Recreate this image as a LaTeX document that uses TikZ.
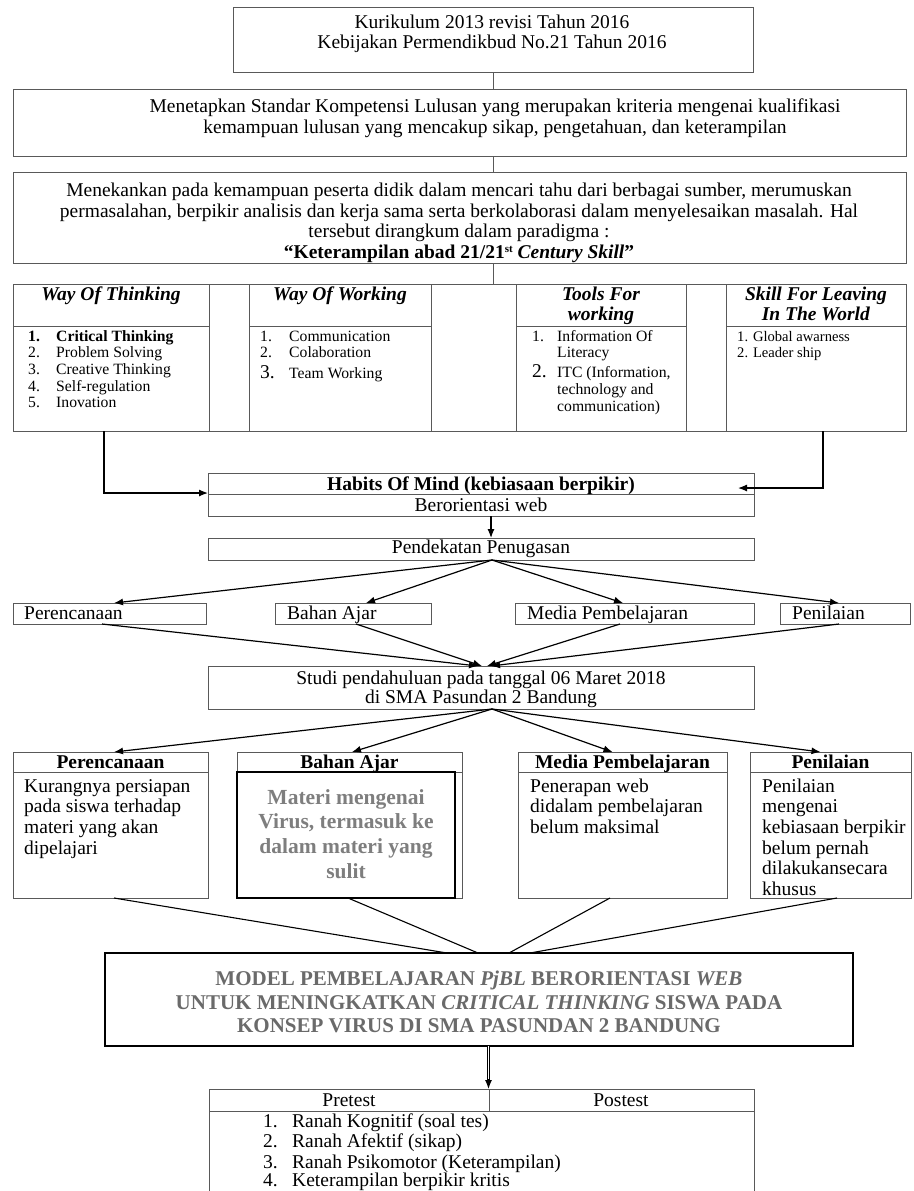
\documentclass[tikz,border=0pt]{standalone}
\usepackage{fontspec}
\setmainfont{Liberation Serif}
\usetikzlibrary{arrows.meta}
\definecolor{gbah}{HTML}{7E7E7E}
\definecolor{gmod}{HTML}{6A6A6A}
\newcommand{\fm}{\fontsize{19.5}{21}\selectfont}
\newcommand{\fl}{\fontsize{15.7}{17}\selectfont}
\newcommand{\fs}{\fontsize{14.6}{16}\selectfont}
\newcommand{\bx}[6][]{\node[box,minimum width=#5pt-#3pt,minimum height=#6pt-#4pt,#1] (#2) at (#3,#4) {};}
\newcommand{\tx}[5][]{\node[txt,#1] (#2) at (#3,#4) {#5};}
\begin{document}
\begin{tikzpicture}[x=1pt,y=-1pt,
  box/.style={draw=black!65,line width=0.8pt,inner sep=0pt,outer sep=0pt,anchor=north west},
  txt/.style={inner sep=0pt,anchor=base,font=\fm},
  lw/.style={anchor=base west},
  vl/.style={draw=black!65,line width=0.8pt},
  arr/.style={draw=black,line width=1.2pt,-{Latex[length=9pt,width=7pt]}},
  ln/.style={draw=black,line width=1.1pt}]
\fill[white] (0,0) rectangle (913,1191);
\useasboundingbox (0,0) rectangle (913,1191);
% ---- top boxes
\bx{top}{233}{7}{753}{72}
\tx{t1}{492}{28}{Kurikulum 2013 revisi Tahun 2016}
\tx{t2}{492}{48}{Kebijakan Permendikbud No.21 Tahun 2016}
\bx{std}{13}{89}{906}{156}
\tx{s1}{495}{112}{Menetapkan Standar Kompetensi Lulusan yang merupakan kriteria mengenai kualifikasi}
\tx{s2}{495}{133}{kemampuan lulusan yang mencakup sikap, pengetahuan, dan keterampilan}
\bx{emph}{13}{172}{906}{263}
\tx{e1}{459}{196}{Menekankan pada kemampuan peserta didik dalam mencari tahu dari berbagai sumber, merumuskan}
\tx{e2}{459}{217}{permasalahan, berpikir analisis dan kerja sama serta berkolaborasi dalam menyelesaikan masalah. Hal}
\tx{e3}{459}{237}{tersebut dirangkum dalam paradigma :}
\tx{e4}{459}{258}{\textbf{“Keterampilan abad 21/21\raisebox{6pt}{\fontsize{11}{11}\selectfont st} \textit{Century Skill}”}}
% ---- table
\bx{wot}{13}{284}{209}{431}
\bx{g1}{209}{284}{249}{431}
\bx{wow}{249}{284}{431}{431}
\bx{g2}{431}{284}{516}{431}
\bx{tool}{516}{284}{686}{431}
\bx{g3}{686}{284}{726}{431}
\bx{skill}{726}{284}{906}{431}
\bx{woth}{13}{284}{209}{326}
\bx{wowh}{249}{284}{431}{326}
\bx{toolh}{516}{284}{686}{326}
\bx{skillh}{726}{284}{906}{326}
\draw[vl] (top.south) -- (top.south |- std.north);
\draw[vl] (top.south |- std.south) -- (top.south |- emph.north);
\draw[vl] (top.south |- emph.south) -- (top.south |- g2.north);
\tx{h1}{111}{300}{\textbf{\textit{Way Of Thinking}}}
\tx{h2}{340}{300}{\textbf{\textit{Way Of Working}}}
\tx{h3}{601}{300}{\textbf{\textit{Tools For}}}
\tx{h3b}{601}{320}{\textbf{\textit{working}}}
\tx{h4}{816}{300}{\textbf{\textit{Skill For Leaving}}}
\tx{h4b}{816}{320}{\textbf{\textit{In The World}}}
% way of thinking list
\tx[lw,font=\fl]{a1n}{28}{341}{\textbf{1.}}
\tx[lw,font=\fl]{a1}{56}{341}{\textbf{Critical Thinking}}
\tx[lw,font=\fl]{a2n}{28}{357.7}{2.}
\tx[lw,font=\fl]{a2}{56}{357.7}{Problem Solving}
\tx[lw,font=\fl]{a3n}{28}{374.3}{3.}
\tx[lw,font=\fl]{a3}{56}{374.3}{Creative Thinking}
\tx[lw,font=\fl]{a4n}{28}{391}{4.}
\tx[lw,font=\fl]{a4}{56}{391}{Self-regulation}
\tx[lw,font=\fl]{a5n}{28}{407.7}{5.}
\tx[lw,font=\fl]{a5}{56}{407.7}{Inovation}
% way of working list
\tx[lw,font=\fl]{b1n}{260}{341}{1.}
\tx[lw,font=\fl]{b1}{289}{341}{Communication}
\tx[lw,font=\fl]{b2n}{260}{357.7}{2.}
\tx[lw,font=\fl]{b2}{289}{357.7}{Colaboration}
\tx[lw,font=\fm]{b3n}{260}{378}{3.}
\tx[lw,font=\fl]{b3}{289}{378}{Team Working}
% tools list
\tx[lw,font=\fl]{c1n}{532}{341}{1.}
\tx[lw,font=\fl]{c1}{557}{341}{Information Of}
\tx[lw,font=\fl]{c1b}{557}{357}{Literacy}
\tx[lw,font=\fm]{c2n}{532}{377}{2.}
\tx[lw,font=\fl]{c2}{557}{377}{ITC (Information,}
\tx[lw,font=\fl]{c2b}{557}{394}{technology and}
\tx[lw,font=\fl]{c2c}{557}{411}{communication)}
% skill list
\tx[lw,font=\fs]{d1}{737}{341}{1. Global awarness}
\tx[lw,font=\fs]{d2}{737}{357}{2. Leader ship}
% ---- habits
\bx{habits}{208}{473}{754}{494}
\bx{web}{208}{494}{754}{516}
\tx{hb}{481}{490}{\textbf{Habits Of Mind (kebiasaan berpikir)}}
\tx{wb}{481}{511}{Berorientasi web}
\coordinate (hr) at (738,488);
\draw[arr] ([xshift=-7pt]wot.south) |- ([yshift=1pt]habits.south west);
\draw[arr] ([xshift=7pt]skill.south) |- (hr);
% ---- pendekatan
\bx{pend}{208}{538}{754}{560}
\tx{pd}{481}{553}{Pendekatan Penugasan}
\draw[arr] ([xshift=10pt]web.south) -- ([xshift=10pt]pend.north);
% ---- level 1
\bx{per1}{13}{603}{206}{624}
\bx{bah1}{275}{603}{431}{624}
\bx{med1}{515}{603}{754}{624}
\bx{pen1}{780}{603}{910}{624}
\tx[lw]{p1t}{24}{619}{Perencanaan}
\tx[lw]{b1t}{287}{619}{Bahan Ajar}
\tx[lw]{m1t}{527}{619}{Media Pembelajaran}
\tx[lw]{n1t}{792}{619}{Penilaian}
\draw[arr] ([xshift=11pt]pend.south) -- ([xshift=4.5pt]per1.north);
\draw[arr] ([xshift=11pt]pend.south) -- ([xshift=13pt]bah1.north);
\draw[arr] ([xshift=11pt]pend.south) -- ([xshift=-11.5pt]med1.north);
\draw[arr] ([xshift=11pt]pend.south) -- ([xshift=-6pt]pen1.north);
% ---- studi
\bx{studi}{208}{666}{754}{709}
\tx{st1}{481}{684}{Studi pendahuluan pada tanggal 06 Maret 2018}
\tx{st2}{481}{703}{di SMA Pasundan 2 Bandung}
\draw[arr] ([xshift=-7.5pt]per1.south) -- ([xshift=-3pt]studi.north);
\draw[arr] ([xshift=3pt]bah1.south) -- ([xshift=1pt]studi.north);
\draw[arr] ([xshift=-14.5pt]med1.south) -- ([xshift=6pt]studi.north);
\draw[arr] ([xshift=-6pt]pen1.south) -- ([xshift=10pt]studi.north);
% ---- level 2
\bx{per2h}{13}{752}{208}{772}
\bx{per2b}{13}{772}{208}{898}
\bx{bah2}{237}{752}{462}{898}
\bx{bah2h}{237}{752}{462}{772}
\bx[line width=2pt,draw=black]{bah2b}{237}{772}{455}{898}
\bx{med2h}{518}{752}{727}{772}
\bx{med2b}{518}{772}{727}{898}
\bx{pen2h}{750}{752}{911}{772}
\bx{pen2b}{750}{772}{911}{898}
\draw[arr] ([xshift=11pt]studi.south) -- ([xshift=3.5pt]per2h.north);
\draw[arr] ([xshift=11pt]studi.south) -- ([xshift=2.5pt]bah2h.north);
\draw[arr] ([xshift=11pt]studi.south) -- ([xshift=-10pt]med2h.north);
\draw[arr] ([xshift=11pt]studi.south) -- ([xshift=-10pt]pen2h.north);
\tx{p2h}{110.5}{768}{\textbf{Perencanaan}}
\tx{b2h}{349.5}{768}{\textbf{Bahan Ajar}}
\tx{m2h}{622.5}{768}{\textbf{Media Pembelajaran}}
\tx{n2h}{830.5}{768}{\textbf{Penilaian}}
\tx[lw]{p2a}{24}{792}{Kurangnya persiapan}
\tx[lw]{p2b}{24}{812.7}{pada siswa terhadap}
\tx[lw]{p2c}{24}{833.4}{materi yang akan}
\tx[lw]{p2d}{24}{854}{dipelajari}
\tx[lw]{m2a}{530}{792}{Penerapan web}
\tx[lw]{m2b}{530}{812.7}{didalam pembelajaran}
\tx[lw]{m2c}{530}{833.4}{belum maksimal}
\tx[lw]{n2a}{762}{792}{Penilaian}
\tx[lw]{n2b}{762}{812.7}{mengenai}
\tx[lw]{n2c}{762}{833.4}{kebiasaan berpikir}
\tx[lw]{n2d}{762}{854}{belum pernah}
\tx[lw]{n2e}{762}{874.7}{dilakukansecara}
\tx[lw]{n2f}{762}{895}{khusus}
\tx[font=\fontsize{21.5}{24}\selectfont\bfseries,text=gbah]{b2a}{346}{804}{Materi mengenai}
\tx[font=\fontsize{21.5}{24}\selectfont\bfseries,text=gbah]{b2b}{346}{828}{Virus, termasuk ke}
\tx[font=\fontsize{21.5}{24}\selectfont\bfseries,text=gbah]{b2c}{346}{853}{dalam materi yang}
\tx[font=\fontsize{21.5}{24}\selectfont\bfseries,text=gbah]{b2d}{346}{878}{sulit}
% ---- model
\bx[line width=2.2pt,draw=black]{model}{105}{953}{853}{1046}
\draw[ln] ([xshift=3.5pt]per2b.south) -- ([xshift=-32pt]model.north);
\draw[ln] ([xshift=2pt]bah2b.south) -- ([xshift=-1pt]model.north);
\draw[ln] ([xshift=-12.5pt]med2b.south) -- ([xshift=30pt]model.north);
\draw[ln] ([xshift=6.5pt]pen2b.south) -- ([xshift=51pt]model.north);
\tx[font=\fontsize{21}{24}\selectfont\bfseries,text=gmod]{mo1}{479}{985}{MODEL PEMBELAJARAN \textit{PjBL} BERORIENTASI \textit{WEB}}
\tx[font=\fontsize{21}{24}\selectfont\bfseries,text=gmod]{mo2}{479}{1009}{UNTUK MENINGKATKAN \textit{CRITICAL THINKING} SISWA PADA}
\tx[font=\fontsize{21}{24}\selectfont\bfseries,text=gmod]{mo3}{479}{1032}{KONSEP VIRUS DI SMA PASUNDAN 2 BANDUNG}
% ---- pretest table
\bx{pre}{209}{1089}{754}{1200}
\bx{preh}{209}{1089}{754}{1111}
\draw[vl] ([xshift=7.5pt]preh.north) -- ([xshift=7.5pt]preh.south);
\draw[line width=0.7pt,double distance=1.6pt,shorten >=8pt] ([xshift=9.5pt]model.south) -- ([xshift=7pt]preh.north);
\draw[arr] ([xshift=7pt,yshift=10pt]preh.north) -- ([xshift=7pt]preh.north);
\tx{pr}{349}{1106}{Pretest}
\tx{po}{621}{1106}{Postest}
\tx[lw]{q1n}{263}{1127}{1.}
\tx[lw]{q1}{292}{1127}{Ranah Kognitif (soal tes)}
\tx[lw]{q2n}{263}{1147.5}{2.}
\tx[lw]{q2}{292}{1147.5}{Ranah Afektif (sikap)}
\tx[lw]{q3n}{263}{1168}{3.}
\tx[lw]{q3}{292}{1168}{Ranah Psikomotor (Keterampilan)}
\tx[lw]{q4n}{263}{1186}{4.}
\tx[lw]{q4}{292}{1186}{Keterampilan berpikir kritis}
\end{tikzpicture}
\end{document}
